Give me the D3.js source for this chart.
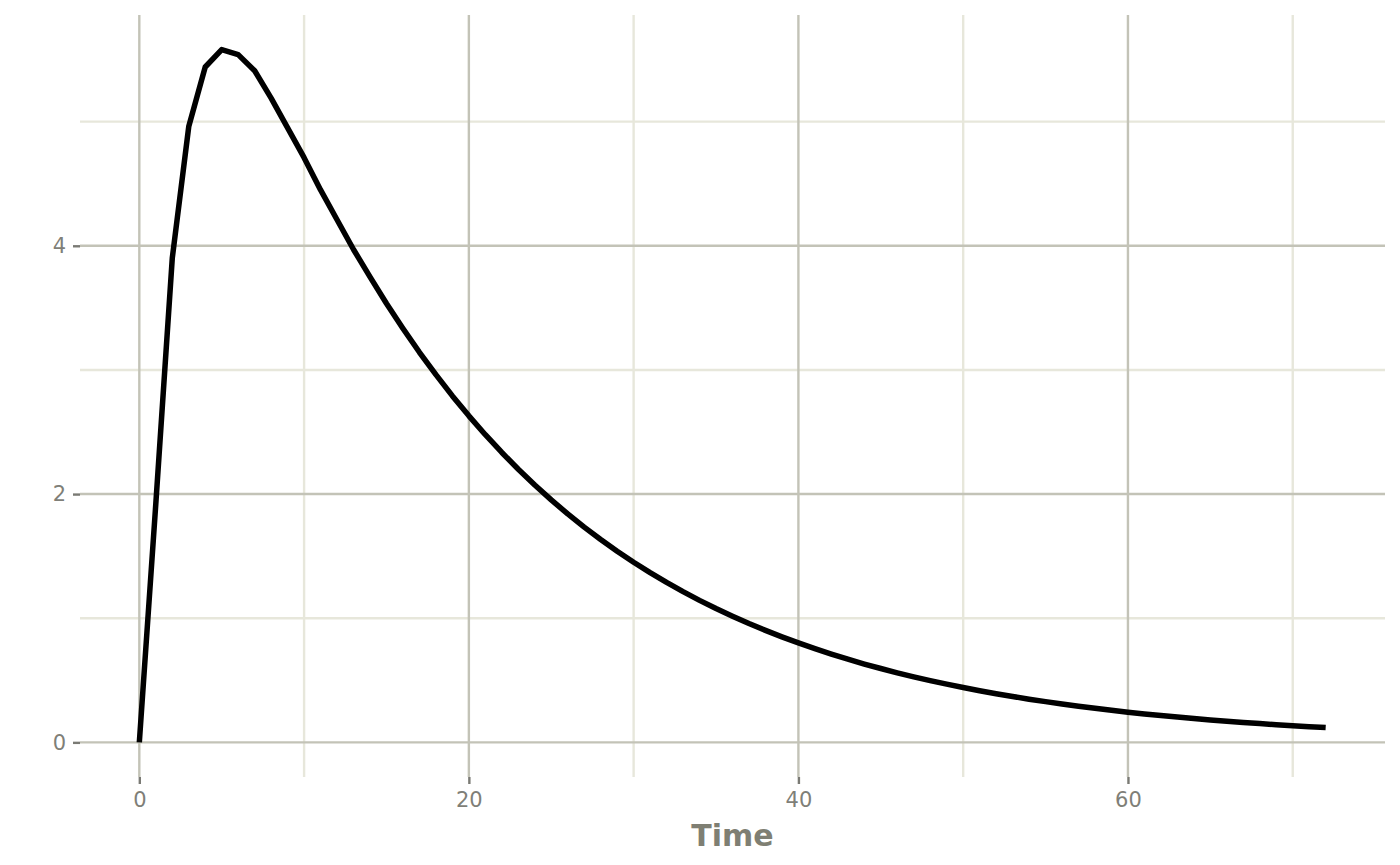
<!DOCTYPE html>
<html>
<head>
<meta charset="utf-8">
<script src="https://cdn.jsdelivr.net/npm/d3@7/dist/d3.min.js"></script>
<style>
  html, body { margin: 0; padding: 0; background: #ffffff; }
  svg { display: block; }
</style>
</head>
<body>
<svg id="chart" width="1400" height="865"></svg>
<script>
// ---- data ----
const time = [
  0, 1, 2, 3, 4, 5, 6, 7, 8, 9,
  10, 11, 12, 13, 14, 15, 16, 17, 18, 19,
  20, 21, 22, 23, 24, 25, 26, 27, 28, 29,
  30, 31, 32, 33, 34, 35, 36, 37, 38, 39,
  40, 41, 42, 43, 44, 45, 46, 47, 48, 49,
  50, 51, 52, 53, 54, 55, 56, 57, 58, 59,
  60, 61, 62, 63, 64, 65, 66, 67, 68, 69,
  70, 71, 72
];
const concentration = [
  0, 1.92, 3.90, 4.96, 5.44, 5.58, 5.54, 5.41, 5.19, 4.95,
  4.71, 4.45, 4.21, 3.97, 3.75, 3.535, 3.334, 3.142, 2.962, 2.791,
  2.630, 2.478, 2.335, 2.200, 2.073, 1.953, 1.840, 1.734, 1.634, 1.540,
  1.451, 1.367, 1.288, 1.214, 1.144, 1.078, 1.016, 0.957, 0.902, 0.850,
  0.801, 0.755, 0.711, 0.670, 0.631, 0.595, 0.560, 0.528, 0.497, 0.469,
  0.442, 0.416, 0.392, 0.369, 0.348, 0.328, 0.309, 0.291, 0.274, 0.258,
  0.243, 0.229, 0.216, 0.204, 0.192, 0.181, 0.170, 0.160, 0.151, 0.142,
  0.134, 0.126, 0.119
];
const xMajorTicks = [0, 20, 40, 60];
const xMinorTicks = [10, 30, 50, 70];
const yMajorTicks = [0, 2, 4];
const yMinorTicks = [1, 3, 5];
const xLabel = "Time";

// ---- layout ----
const svg = d3.select("#chart");
const panel = { left: 80, right: 1385, top: 15, bottom: 777 };

const xMin = d3.min(time), xMax = d3.max(time);
const xPad = (xMax - xMin) * 0.05;
const yMin = 0, yMax = d3.max(concentration);
const yPad = (yMax - yMin) * 0.05;

const x = d3.scaleLinear().domain([xMin - xPad, xMax + xPad]).range([panel.left, panel.right]);
const y = d3.scaleLinear().domain([yMin - yPad, yMax + yPad]).range([panel.bottom, panel.top]);

const majorCol = "#c3c3b7";
const minorCol = "#e7e7db";
const textCol = "#7f7f78";

const grid = svg.append("g");
// minor grid
grid.selectAll(".vmin").data(xMinorTicks).enter().append("line")
  .attr("x1", d => x(d)).attr("x2", d => x(d))
  .attr("y1", panel.top).attr("y2", panel.bottom)
  .attr("stroke", minorCol).attr("stroke-width", 2.4);
grid.selectAll(".hmin").data(yMinorTicks).enter().append("line")
  .attr("y1", d => y(d)).attr("y2", d => y(d))
  .attr("x1", panel.left).attr("x2", panel.right)
  .attr("stroke", minorCol).attr("stroke-width", 2.4);
// major grid
grid.selectAll(".vmaj").data(xMajorTicks).enter().append("line")
  .attr("x1", d => x(d)).attr("x2", d => x(d))
  .attr("y1", panel.top).attr("y2", panel.bottom)
  .attr("stroke", majorCol).attr("stroke-width", 2.4);
grid.selectAll(".hmaj").data(yMajorTicks).enter().append("line")
  .attr("y1", d => y(d)).attr("y2", d => y(d))
  .attr("x1", panel.left).attr("x2", panel.right)
  .attr("stroke", majorCol).attr("stroke-width", 2.4);

// axes
const xAxis = d3.axisBottom(x).tickValues(xMajorTicks).tickSize(7).tickPadding(8).tickFormat(d3.format("d"));
const gx = svg.append("g").attr("transform", `translate(0,${panel.bottom})`).call(xAxis);
gx.select(".domain").remove();
gx.selectAll(".tick line").attr("stroke", "#7a7a74").attr("stroke-width", 2.4);
gx.selectAll(".tick text").attr("fill", textCol)
  .style("font-family", "DejaVu Sans").style("font-size", "21px");

const yAxis = d3.axisLeft(y).tickValues(yMajorTicks).tickSize(7).tickPadding(7).tickFormat(d3.format("d"));
const gy = svg.append("g").attr("transform", `translate(${panel.left},0)`).call(yAxis);
gy.select(".domain").remove();
gy.selectAll(".tick line").attr("stroke", "#7a7a74").attr("stroke-width", 2.4);
gy.selectAll(".tick text").attr("fill", textCol)
  .style("font-family", "DejaVu Sans").style("font-size", "21px");

// x-axis title
svg.append("text")
  .attr("x", (panel.left + panel.right) / 2)
  .attr("y", 846)
  .attr("text-anchor", "middle")
  .attr("fill", "#7f7f73")
  .style("font-family", "DejaVu Sans")
  .style("font-weight", "bold")
  .style("font-size", "30px")
  .text(xLabel);

// data line
const pts = time.map((t, i) => [t, concentration[i]]);
svg.append("path")
  .datum(pts)
  .attr("fill", "none")
  .attr("stroke", "#000000")
  .attr("stroke-width", 5.5)
  .attr("stroke-linejoin", "round")
  .attr("stroke-linecap", "butt")
  .attr("d", d3.line().x(d => x(d[0])).y(d => y(d[1])));
</script>
</body>
</html>
